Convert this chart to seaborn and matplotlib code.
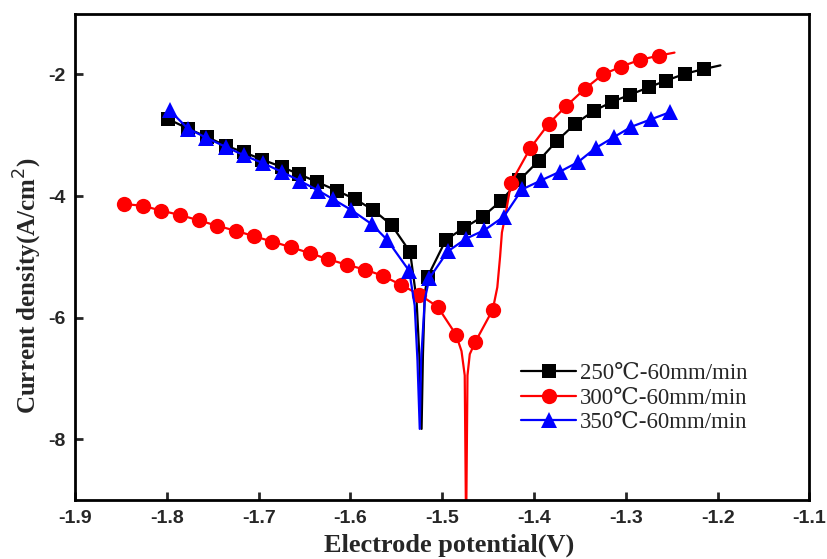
import numpy as np
import pandas as pd
import matplotlib.pyplot as plt
import seaborn as sns
from matplotlib.lines import Line2D

# marked points
e250 = [-1.799, -1.777, -1.756, -1.736, -1.716, -1.696, -1.675, -1.656, -1.636, -1.615,
        -1.595, -1.575, -1.555, -1.535, -1.516, -1.496, -1.476, -1.456, -1.436, -1.416,
        -1.395, -1.375, -1.355, -1.335, -1.315, -1.295, -1.275, -1.256, -1.236, -1.215]
i250 = [-2.73, -2.89, -3.03, -3.17, -3.28, -3.40, -3.52, -3.64, -3.77, -3.91,
        -4.05, -4.23, -4.48, -4.92, -5.33, -4.72, -4.52, -4.34, -4.08, -3.74,
        -3.42, -3.09, -2.81, -2.60, -2.45, -2.33, -2.21, -2.10, -1.99, -1.91]
# unmarked line points (Ecorr spike, tail)
e250_line = [-1.528, -1.525, -1.5225, -1.521, -1.519, -1.197]
i250_line = [-5.70, -6.60, -7.83, -6.60, -5.60, -1.85]

e300 = [-1.847, -1.826, -1.806, -1.786, -1.765, -1.745, -1.725, -1.705, -1.685, -1.665,
        -1.644, -1.624, -1.604, -1.584, -1.565, -1.545, -1.525, -1.505, -1.485, -1.464,
        -1.445, -1.425, -1.404, -1.384, -1.365, -1.345, -1.325, -1.305, -1.285, -1.264]
i300 = [-4.13, -4.16, -4.24, -4.31, -4.40, -4.49, -4.57, -4.66, -4.75, -4.84,
        -4.94, -5.04, -5.13, -5.21, -5.31, -5.46, -5.62, -5.82, -6.28, -6.40,
        -5.87, -3.78, -3.21, -2.81, -2.52, -2.24, -2.00, -1.87, -1.76, -1.69]
e300_line = [-1.479, -1.4755, -1.474, -1.4725, -1.470, -1.440, -1.437, -1.435, -1.431, -1.247]
i300_line = [-6.55, -6.95, -9.50, -6.95, -6.60, -5.50, -5.00, -4.60, -4.30, -1.64]

e350 = [-1.797, -1.777, -1.757, -1.736, -1.716, -1.695, -1.675, -1.655, -1.635, -1.619,
        -1.599, -1.577, -1.560, -1.536, -1.514, -1.494, -1.474, -1.454, -1.433, -1.413,
        -1.392, -1.372, -1.352, -1.333, -1.313, -1.294, -1.273, -1.252]
i350 = [-2.59, -2.89, -3.04, -3.19, -3.33, -3.46, -3.60, -3.75, -3.91, -4.05,
        -4.23, -4.46, -4.72, -5.23, -5.35, -4.91, -4.70, -4.56, -4.34, -3.89,
        -3.74, -3.60, -3.44, -3.21, -3.03, -2.86, -2.74, -2.62]
e350_line = [-1.530, -1.527, -1.5245, -1.523, -1.519]
i350_line = [-5.80, -6.70, -7.83, -6.70, -5.70]

labels = ['250℃-60mm/min', '300℃-60mm/min', '350℃-60mm/min']
xticks = [-1.9, -1.8, -1.7, -1.6, -1.5, -1.4, -1.3, -1.2, -1.1]
yticks = [-8, -6, -4, -2]


def build(e, i, e_line, i_line):
    df = pd.DataFrame({'E': e + e_line, 'I': i + i_line,
                       'marked': [True] * len(e) + [False] * len(e_line)})
    return df.sort_values('E').reset_index(drop=True)


series = [
    (build(e250, i250, e250_line, i250_line), 'black', 's', 9.5),
    (build(e300, i300, e300_line, i300_line), 'red', 'o', 11),
    (build(e350, i350, e350_line, i350_line), 'blue', '^', 11),
]

sns.set_style('ticks')
plt.rcParams['font.family'] = ['Liberation Serif', 'DejaVu Serif']
plt.rcParams['axes.unicode_minus'] = False

fig = plt.figure(figsize=(8.28, 5.59), dpi=100)
ax = fig.add_axes([0.0906, 0.1055, 0.887, 0.870])

handles = []
for (df, color, marker, ms), label in zip(series, labels):
    sns.lineplot(data=df, x='E', y='I', ax=ax, color=color, lw=1.6,
                 estimator=None, sort=False, marker=marker, ms=ms,
                 markeredgewidth=0, markevery=list(np.flatnonzero(df['marked'])))
    handles.append(Line2D([], [], color=color, lw=1.6, marker=marker, ms=ms,
                          markeredgewidth=0, label=label))

ax.set_xlim(-1.9, -1.1)
ax.set_ylim(-9, -1)
ax.set_xticks(xticks)
ax.set_xticklabels([f'{v:.1f}' for v in xticks])
ax.set_yticks(yticks)
ax.set_yticklabels([str(v) for v in yticks])

ax.tick_params(direction='in', length=6, width=2, labelsize=14, pad=7)
for t in ax.get_xticklabels() + ax.get_yticklabels():
    t.set_fontweight('bold')
    t.set_family('Liberation Sans')
for s in ax.spines.values():
    s.set_linewidth(2)
    s.set_color('black')

ax.set_xlabel('Electrode potential(V)', fontsize=19, fontweight='bold')
ax.set_ylabel('Current density(A/cm$^2$)', fontsize=18, fontweight='bold')
ax.yaxis.set_label_coords(-0.042, 0.44)
ax.xaxis.set_label_coords(0.51, -0.07)

ax.legend(handles=handles, loc='upper left', bbox_to_anchor=(0.595, 0.30),
          frameon=False, fontsize=16.5, handlelength=2.4, handletextpad=0.15,
          labelspacing=0.15, borderaxespad=0)

fig.savefig('out.png', dpi=100)
